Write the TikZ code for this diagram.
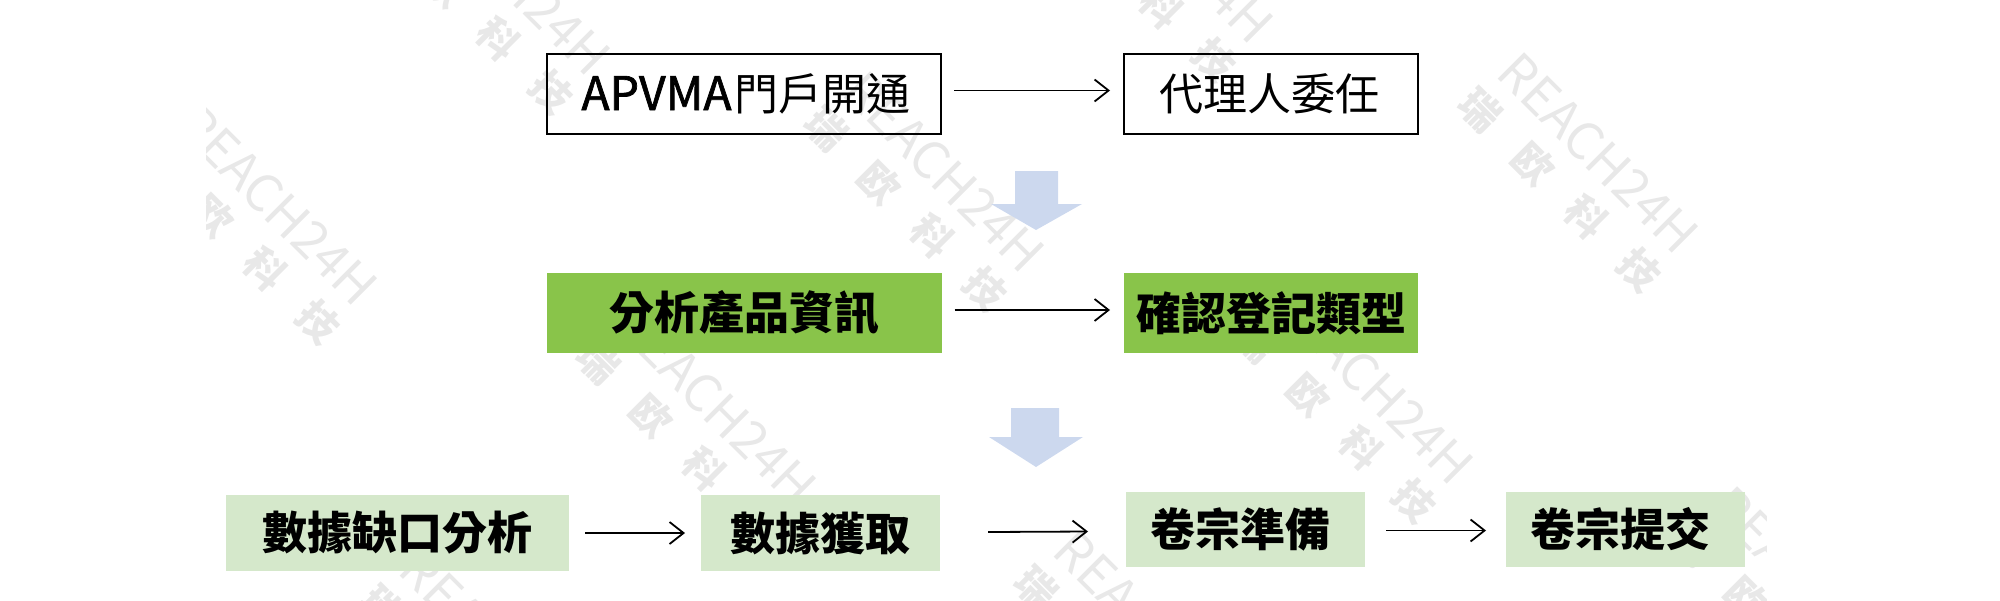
\documentclass[tikz,border=0pt]{standalone}
\usepackage{fontspec}
\usetikzlibrary{arrows.meta}
\setmainfont{Noto Sans CJK TC}
\newfontfamily\markfont{Noto Sans CJK SC}
\newfontfamily\namefont[FakeBold=1.5]{Noto Sans CJK TC}
\definecolor{stepgreen}{RGB}{137,196,74}
\definecolor{paleblue}{RGB}{204,216,238}
\definecolor{palegreen}{RGB}{213,232,203}
\definecolor{markgray}{RGB}{232,232,232}
\tikzset{
  stepbase/.style={inner sep=0pt, outer sep=0pt, font=\fontsize{22.5pt}{26pt}\selectfont\bfseries},
  outlinebox/.style={stepbase, draw=black, line width=1pt, font=\fontsize{22pt}{26pt}\selectfont},
  greenbox/.style={stepbase, fill=stepgreen},
  paleboxes/.style={stepbase, fill=palegreen},
  flowarrow/.style={-{Straight Barb[length=7pt,width=11pt]}, line width=0.9pt},
  blockarrow/.style={fill=paleblue, draw=none},
  markword/.style={text=markgray, rotate=-45, font=\markfont\fontsize{25.5pt}{30pt}\selectfont},
  markchars/.style={markword, font=\markfont\bfseries\fontsize{20pt}{24pt}\selectfont}
}

\begin{document}
\begin{tikzpicture}[x=0.5pt,y=-0.5pt]
\useasboundingbox (0,0) rectangle (2000,600);
% Watermarks
\begin{scope}
  \clip (206,0) rectangle (1766,600);
  \foreach \mx/\my in {277/205, 510/-25, 944/172, 1173/-57, 1598/153, 716/405, 1373/384, 500/650, 1154/631, 1811/587}{
    \node[markword] (markname) at (\mx,\my) {REACH24H};
    \node[markchars] (marksub) at (\mx-38,\my+37) {瑞\hspace{17.5pt}欧\hspace{17.5pt}科\hspace{17.5pt}技};
  }
\end{scope}
% Block arrows between rows
\fill[blockarrow] (1015,171) -- (1058,171) -- (1058,204) -- (1082,204) -- (1036,230) -- (991,204) -- (1015,204) -- cycle;
\fill[blockarrow] (1011,408) -- (1059,408) -- (1059,437) -- (1083,437) -- (1036,467) -- (989,437) -- (1011,437) -- cycle;
% Top row
\node[outlinebox, minimum width=197pt, minimum height=40pt] (portal) at (744,93.5) {\kern2pt{\namefont\fontsize{23.2pt}{26pt}\selectfont APVMA}\kern1.5pt 門戶開通};
\node[outlinebox, minimum width=147pt, minimum height=40pt] (agent) at (1271,93.5) {代理人委任\kern2pt};
% Middle row
\node[greenbox, minimum width=197.5pt, minimum height=40pt] (product) at (744,313) {分析產品資訊};
\node[greenbox, minimum width=147pt, minimum height=40pt] (regtype) at (1271,313) {確認登記類型};
% Bottom row
\node[paleboxes, minimum width=171.5pt, minimum height=38pt] (gap) at (397.5,533) {數據缺口分析};
\node[paleboxes, minimum width=119.5pt, minimum height=38pt] (data) at (820.5,533) {數據獲取};
\node[paleboxes, minimum width=119.5pt, minimum height=37.5pt] (dossier) at (1245.5,529.5) {\raisebox{0.9pt}{卷宗準備}\kern5.5pt};
\node[paleboxes, minimum width=119.5pt, minimum height=37.5pt] (submit) at (1625.5,529.5) {\raisebox{-1.5pt}{卷宗提交}\kern5.5pt};
% Connectors
\draw[flowarrow] ([xshift=6.5pt,yshift=1.5pt]portal.east) -- ([xshift=-7pt,yshift=1.5pt]agent.west);
\draw[flowarrow] ([xshift=6.5pt,yshift=1.5pt]product.east) -- ([xshift=-7pt,yshift=1.5pt]regtype.west);
\draw[flowarrow] ([xshift=8pt]gap.east) -- ([xshift=-8pt]data.west);
\draw[flowarrow] ([xshift=24pt,yshift=0.5pt]data.east) -- ([xshift=-19pt,yshift=-1pt]dossier.west);
\draw[flowarrow] ([xshift=10.5pt,yshift=-0.5pt]dossier.east) -- ([xshift=-10pt,yshift=-0.5pt]submit.west);
\end{tikzpicture}
\end{document}
